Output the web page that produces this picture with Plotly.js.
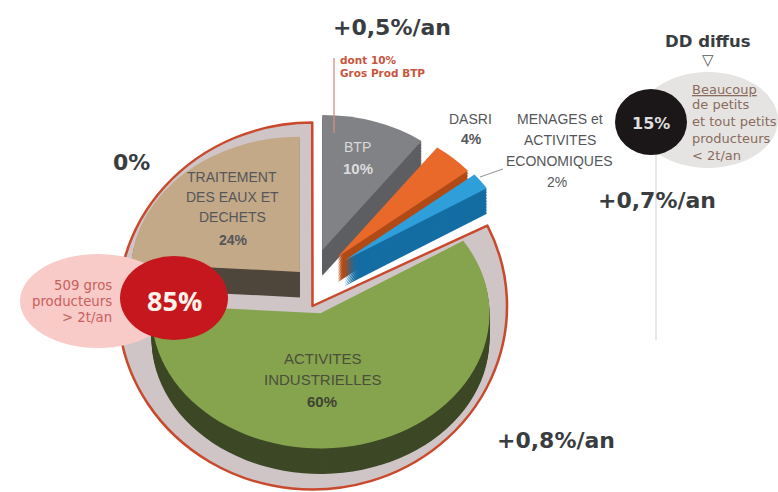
<!DOCTYPE html>
<html>
<head>
<meta charset="utf-8">
<script src="https://cdn.plot.ly/plotly-3.0.1.min.js"></script>
<style>html,body{margin:0;padding:0;background:#fff}#chart{width:778px;height:492px}</style>
</head>
<body>
<div id="chart"></div>
<script>
// ---- data ----
var sectors = ['BTP', 'DASRI', 'MENAGES et ACTIVITES ECONOMIQUES', 'ACTIVITES INDUSTRIELLES', 'TRAITEMENT DES EAUX ET DECHETS'];
var shares = [10, 4, 2, 60, 24];
var pulls = [0.235, 0.24, 0.25, 0.25, 0.087];
var topColors = ['#808286', '#e8692a', '#2f9fd9', '#86a34e', '#c3a988'];
var sideColors = ['#5c5e61', '#b04a16', '#146da3', '#3d4826', '#4f463c'];
var ringShares = [82.2, 17.8];
var sideOffsets = [1.5, 3, 4.5, 6, 7.5, 9, 10.5, 12, 13.5, 15, 16.5, 18, 19.5, 21, 22.5, 24, 25.5];

var W = 778, H = 492;
function fx(v){ return v / W; }
function fy(v){ return 1 - v / H; }

// main pie geometry in page pixels
var C = {x: 310, y: 280.5, avail: 211.25, squash: 0.8};
// ring geometry
var R = {x: 312.5, y: 306, r: 183.5, stretch: 1.06};

var common = {type: 'pie', sort: false, direction: 'clockwise', textinfo: 'none',
  hoverinfo: 'skip', showlegend: false};

var traces = [];
traces.push(Object.assign({}, common, {
  values: ringShares, rotation: 64,
  domain: {x: [fx(R.x - R.r), fx(R.x + R.r)], y: [fy(R.y + R.r), fy(R.y - R.r)]},
  marker: {colors: ['#cfc4c6', 'rgba(255,255,255,0)'],
           line: {color: ['#c9492c', 'rgba(255,255,255,0)'], width: [2.4, 0]}}
}));
var mainDomain = {x: [fx(C.x - C.avail), fx(C.x + C.avail)], y: [fy(C.y + C.avail), fy(C.y - C.avail)]};
sideOffsets.forEach(function(){
  traces.push(Object.assign({}, common, {
    labels: sectors, values: shares, pull: pulls, rotation: 0, domain: mainDomain,
    marker: {colors: sideColors, line: {width: 0}}
  }));
});
traces.push(Object.assign({}, common, {
  labels: sectors, values: shares, pull: pulls, rotation: 0, domain: mainDomain,
  marker: {colors: topColors, line: {width: 0}}
}));

function ell(cx, cy, rx, ry, fill){
  return {type: 'circle', xref: 'paper', yref: 'paper', layer: 'above',
    x0: fx(cx - rx), x1: fx(cx + rx), y0: fy(cy + ry), y1: fy(cy - ry),
    fillcolor: fill, line: {width: 0}};
}
function seg(x0, y0, x1, y1, color, w){
  return {type: 'line', xref: 'paper', yref: 'paper', layer: 'above',
    x0: fx(x0), x1: fx(x1), y0: fy(y0), y1: fy(y1), line: {color: color, width: w}};
}
var shapes = [
  ell(98, 301, 78, 47, '#f8cbc9'),
  ell(174, 298, 54, 42, '#c5171d'),
  ell(708, 120, 70, 48, '#e5e4e3'),
  seg(656, 150, 656, 340, '#cdd2d6', 1),
  ell(651, 122, 36, 33, '#1b1718'),
  seg(334, 58, 334, 133, '#d98c7c', 1.3),
  seg(480, 177, 503, 169, '#8c9397', 1)
];

var SANS = '"Liberation Sans", Arial, sans-serif';
var DJ = '"DejaVu Sans", sans-serif';
var GREY = '#55565a';
function t(x, y, text, size, color, family, anchor){
  return {xref: 'paper', yref: 'paper', x: fx(x), y: fy(y), text: text, showarrow: false,
    xanchor: anchor || 'center', yanchor: 'middle',
    font: {size: size, color: color, family: family || SANS}};
}
var annotations = [
  t(392, 27, '<b>+0,5%/an</b>', 22, '#3a3d40', DJ),
  t(131, 162, '<b>0%</b>', 22, '#3a3d40', DJ),
  t(556, 440, '<b>+0,8%/an</b>', 22, '#3a3d40', DJ),
  t(657, 200, '<b>+0,7%/an</b>', 22, '#3a3d40', DJ),
  t(708, 42, '<b>DD diffus</b>', 16.5, '#3a3d40', DJ),
  t(708, 60, '▽', 15, '#55585a', DJ),
  t(338, 60, '<b>dont 10%</b>', 10.5, '#c8553d', DJ, 'left'),
  t(338, 73, '<b>Gros Prod BTP</b>', 10.5, '#c8553d', DJ, 'left'),
  t(232, 177, 'TRAITEMENT', 14, GREY),
  t(232, 197, 'DES EAUX ET', 14, GREY),
  t(232, 217, 'DECHETS', 14, GREY),
  t(233, 240, '<b>24%</b>', 14, GREY),
  t(357, 147, 'BTP', 14, '#d9d9da'),
  t(358, 168, '<b>10%</b>', 15, '#dcdcdd'),
  t(470, 119, 'DASRI', 14, GREY),
  t(471, 139, '<b>4%</b>', 14, GREY),
  t(560, 119, 'MENAGES et', 14, GREY),
  t(560, 140, 'ACTIVITES', 14, GREY),
  t(559, 161, 'ECONOMIQUES', 14, GREY),
  t(557, 182, '2%', 14, GREY),
  t(323, 358, 'ACTIVITES', 15, '#4a4f3a'),
  t(323, 379, 'INDUSTRIELLES', 15, '#4a4f3a'),
  t(322, 401, '<b>60%</b>', 15, '#3f4433'),
  t(114, 285, '509 gros', 13.3, '#c9605c', DJ, 'right'),
  t(114, 301, 'producteurs', 13.3, '#c9605c', DJ, 'right'),
  t(114, 317, '&gt; 2t/an', 13.3, '#c9605c', DJ, 'right'),
  t(174, 300, '<b>85%</b>', 27, '#fdf3ea', '"Open Sans", sans-serif'),
  t(651, 123, '<b>15%</b>', 16, '#dedede', DJ),
  t(690, 89, '<u>Beaucoup</u>', 13, '#8a6b5c', DJ, 'left'),
  t(690, 105, 'de petits', 13, '#8a6b5c', DJ, 'left'),
  t(690, 122, 'et tout petits', 13, '#8a6b5c', DJ, 'left'),
  t(690, 139, 'producteurs', 13, '#8a6b5c', DJ, 'left'),
  t(690, 155, '&lt; 2t/an', 13, '#8a6b5c', DJ, 'left')
];

var layout = {width: W, height: H, margin: {l: 0, r: 0, t: 0, b: 0},
  paper_bgcolor: '#ffffff', shapes: shapes, annotations: annotations, showlegend: false};

// tilt the library-drawn pies so they read as the perspective view in the picture
function tilt(gd){
  var groups = gd.querySelectorAll('.pielayer .trace');
  groups.forEach(function(g, i){
    if (i === 0) {
      g.setAttribute('transform', 'translate(' + R.x + ',0) scale(' + R.stretch + ',1) translate(' + (-R.x) + ',0)');
    } else {
      var dy = i <= sideOffsets.length ? sideOffsets[sideOffsets.length - i] : 0;
      g.setAttribute('transform', 'translate(0,' + (C.y + dy) + ') scale(1,' + C.squash + ') translate(0,' + (-C.y) + ')');
    }
  });
}
Plotly.newPlot('chart', traces, layout, {displayModeBar: false, staticPlot: true}).then(function(gd){
  tilt(gd);
});
</script>
</body>
</html>
